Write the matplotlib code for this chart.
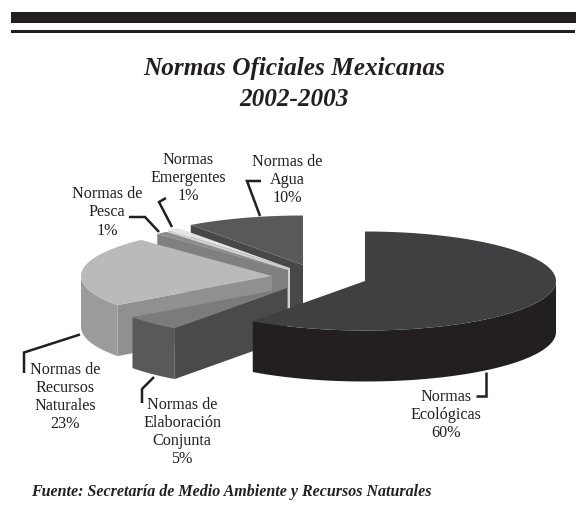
import numpy as np
import matplotlib
matplotlib.use("Agg")
import matplotlib.pyplot as plt
from matplotlib.patches import Polygon, Rectangle

plt.rcParams['font.family'] = ['Liberation Serif', 'DejaVu Serif']

categories = ["Normas\nEcológicas\n60%", "Normas de\nElaboración\nConjunta\n5%",
              "Normas de\nRecursos\nNaturales\n23%", "Normas de\nPesca\n1%",
              "Normas\nEmergentes\n1%", "Normas de\nAgua\n10%"]
values = [60, 5, 23, 1, 1, 10]

# layout (pixel space of the page)
apex = [(365, 281), (287, 288), (272, 276), (288, 270), (290, 268), (303, 265)]
top_colors = ["#404042", "#7a7b7d", "#b9babc", "#8b8c8e", "#e4e5e6", "#58595b"]
side_colors = ["#231f20", "#58595b", "#9a9b9d", "#8b8c8e", "#d8d9da", "#4d4d4f"]
wall_colors = ["#231f20", "#4a4a4c", "#8f9092", "#7f8082", "#d0d1d2", "#48484a"]
label_pos = [(446, 415), (182, 432), (65, 397), (107, 212.5), (188, 178), (287, 180)]
leaders = [[(486, 372), (486, 396), (476, 396)],
           [(154, 377), (142, 389), (142, 403)],
           [(80, 334.5), (24, 352.5), (24, 373)],
           [(159, 232), (145, 217), (129, 217)],
           [(172, 227), (159, 202), (166, 198)],
           [(260, 216), (247, 181), (261, 181)]]
RX, RY, DEPTH = 191, 49.5, 51

fig = plt.figure(figsize=(5.76, 5.12), dpi=100)
ax = fig.add_axes([0, 0, 1, 1])
ax.set_xlim(0, 576)
ax.set_ylim(512, 0)
ax.axis("off")

ax.add_patch(Rectangle((11, 12), 565, 10.5, color="#231f20", lw=0))
ax.add_patch(Rectangle((11, 29.5), 564, 3, color="#231f20", lw=0))
ax.text(294, 69, "Normas Oficiales Mexicanas", ha="center", va="center", fontsize=18.2,
        style="italic", weight="bold", color="#231f20")
ax.text(294, 100, "2002-2003", ha="center", va="center", fontsize=18.2,
        style="italic", weight="bold", color="#231f20")

def rim(c, a0, a1, dz=0):
    t = np.radians(np.linspace(a0, a1, max(2, int(abs(a1 - a0)) + 2)))
    return np.column_stack([c[0] + RX * np.sin(t), c[1] - RY * np.cos(t) + dz])

angles = np.concatenate([[0], np.cumsum(values)]) * 3.6
for i in [5, 4, 3, 2, 1, 0]:
    a0, a1, c = angles[i], angles[i + 1], apex[i]
    # wall on the leading cut
    if 180 < a0 < 360:
        p = rim(c, a0, a0)[0]
        wall = [p, c, (c[0], c[1] + DEPTH), (p[0], p[1] + DEPTH)]
        ax.add_patch(Polygon(wall, fc=wall_colors[i], ec="none"))
    # outer side
    s0, s1 = max(a0, 90), min(a1, 270)
    if s1 > s0:
        side = np.vstack([rim(c, s0, s1), rim(c, s1, s0, DEPTH)])
        ax.add_patch(Polygon(side, fc=side_colors[i], ec="none"))
    top = np.vstack([[c], rim(c, a0, a1)])
    ax.add_patch(Polygon(top, fc=top_colors[i], ec="none"))

for lab, pos, pts in zip(categories, label_pos, leaders):
    ax.text(pos[0], pos[1], lab, ha="center", va="center", fontsize=11.6,
            linespacing=1.17, color="#231f20")
    xs, ys = zip(*pts)
    ax.plot(xs, ys, color="#231f20", lw=1.8, solid_joinstyle="miter", solid_capstyle="butt")

ax.text(31, 492, "Fuente: Secretaría de Medio Ambiente y Recursos Naturales", ha="left", va="center",
        fontsize=11.5, style="italic", weight="bold", color="#231f20")
fig.savefig("out.png", dpi=100)
